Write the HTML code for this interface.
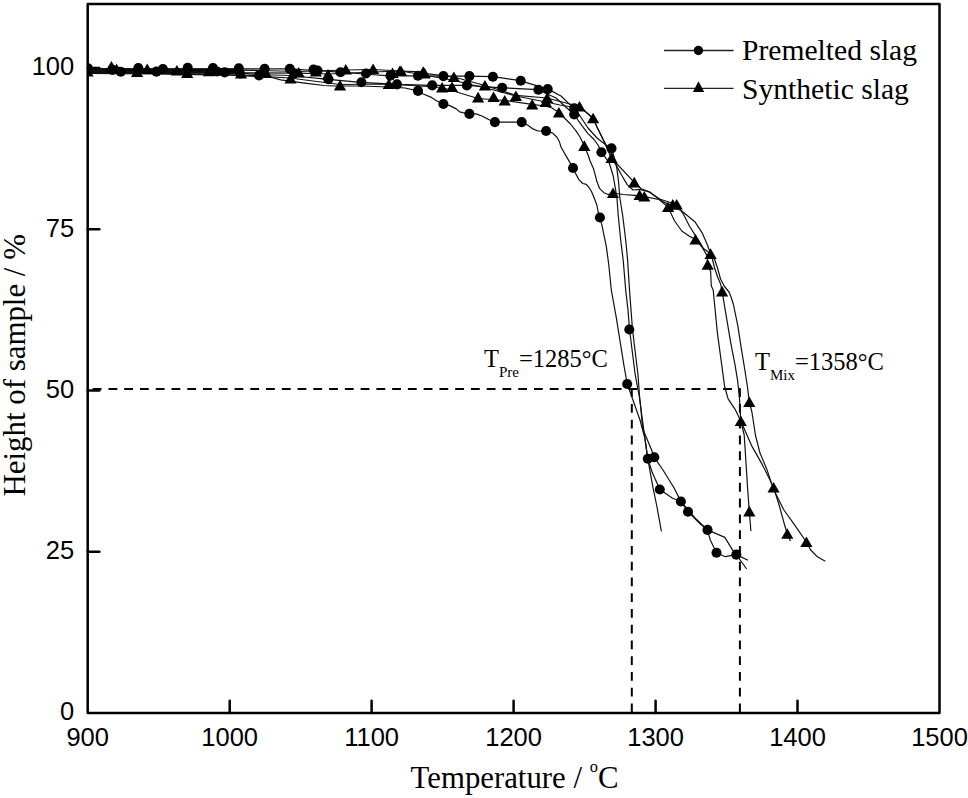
<!DOCTYPE html>
<html><head><meta charset="utf-8"><style>
html,body{margin:0;padding:0;background:#fff;}
svg{display:block;}
</style></head><body>
<svg width="968" height="798" viewBox="0 0 968 798">
<rect width="968" height="798" fill="#fff"/>
<g stroke="#000" stroke-width="2" fill="none" stroke-dasharray="8.8 6.96">
<path d="M92.7,389.1 H740"/>
<path d="M631.8,388.3 V713"/>
<path d="M739.9,388.3 V713"/>
</g>
<defs><clipPath id="c"><rect x="88" y="4" width="851" height="709"/></clipPath></defs>
<g clip-path="url(#c)">
<path d="M88,68.1 L130,68.3 L200,68.4 L235,68.5 L235,74.0 L200,73.8 L130,73.6 L88,73.5Z" fill="#000"/>
<g stroke="#111" stroke-width="1.2" fill="none" stroke-linejoin="round">
<polyline points="88.0,68.6 130.0,68.8 200.0,68.8 264.0,68.8 289.0,68.9 315.0,70.5 340.0,72.2 364.0,74.0 390.0,75.8 418.0,75.8 443.0,76.1 469.0,76.1 493.0,76.7 519.0,80.4 548.0,89.1 561.0,96.0 574.0,108.6 580.0,116.0 588.0,128.0 597.0,138.0 606.0,145.0 611.5,148.5 616.4,164.8 618.5,181.3 619.8,197.5 622.6,215.0 625.7,240.0 627.6,260.0 629.5,290.0 631.0,310.0 632.5,329.5 637.9,374.0 640.0,402.0 643.6,428.6 647.8,458.8 653.0,487.7 657.0,507.0 661.4,531.3"/>
<polyline points="88.0,70.6 121.0,71.0 157.0,71.5 192.0,71.8 225.0,72.2 258.0,74.5 290.0,75.5 328.0,79.3 361.0,82.3 397.0,84.4 432.0,85.4 467.0,85.4 502.0,87.8 538.0,89.7 556.0,98.0 574.0,114.5 582.5,126.3 587.8,133.3 594.0,139.5 598.0,145.0 601.4,152.2 609.0,162.3 613.1,175.5 615.6,189.6 616.9,197.5 618.2,215.0 620.7,240.1 623.2,260.2 625.7,290.0 628.0,310.0 629.5,329.3 635.1,374.0 640.3,402.0 642.6,428.6 651.6,450.0 654.3,457.3 663.6,471.0 674.0,487.7 680.9,501.5 695.0,518.0 707.5,529.9 710.3,540.0 716.5,552.8 725.3,556.7 736.3,554.6 746.7,569.0"/>
<polyline points="88.0,73.4 150.0,74.0 230.0,75.2 270.0,77.0 280.7,79.8 306.5,83.4 324.0,85.5 334.0,86.0 360.0,86.0 390.0,87.0 405.0,88.0 418.0,90.9 423.2,94.0 431.5,97.4 436.4,100.7 443.8,104.2 449.7,105.6 456.3,108.9 459.6,111.8 462.9,112.6 469.2,113.9 476.1,113.9 481.9,116.0 489.1,119.8 494.9,122.1 521.7,122.1 527.9,125.2 532.9,128.9 537.9,131.0 546.1,131.0 552.7,133.1 556.9,137.2 559.3,141.3 561.1,147.3 566.0,155.9 569.7,162.1 572.8,167.7 575.8,173.9 578.9,179.6 582.8,183.5 586.3,184.4 589.0,187.5 591.6,191.8 594.2,198.0 596.8,205.0 598.2,212.0 599.9,217.5 601.9,225.1 606.3,246.4 608.8,265.0 611.3,290.0 616.3,317.6 623.8,364.6 627.2,384.0 630.4,392.8 640.0,420.0 644.8,438.0 647.8,458.8 652.3,472.6 659.8,489.5 672.6,498.2 680.9,501.5 688.0,511.7 700.3,524.0 707.5,529.9 724.8,537.4 733.0,550.6 736.3,554.6 748.0,560.3"/>
<polyline points="88.0,72.6 150.0,73.2 240.0,75.0 290.0,78.0 340.0,84.5 388.8,84.0 420.0,86.0 442.0,87.5 478.0,98.5 505.0,100.5 532.0,104.4 545.0,106.0 552.0,108.0 559.0,112.4 564.7,118.3 570.5,124.0 576.3,131.3 580.0,137.0 584.3,145.8 587.0,152.6 588.1,155.0 589.8,160.3 593.3,168.2 595.1,174.3 596.8,181.3 599.5,188.3 603.9,192.7 608.2,194.5 613.0,193.0 623.0,194.5 634.6,195.4 644.0,196.5 658.7,199.4 668.0,207.0 674.6,221.0 681.8,231.0 689.0,236.0 695.5,239.4 702.0,247.0 707.0,255.6 707.7,264.6 710.6,271.5 711.3,286.0 713.2,290.0 714.9,307.5 717.5,333.9 721.1,360.2 724.6,386.5 728.1,398.8 735.1,409.3 740.8,421.0 744.2,435.0 746.4,469.0 747.5,487.0 749.3,511.3 750.9,531.0"/>
<polyline points="88.0,69.6 130.0,69.8 200.0,70.0 260.0,70.5 298.0,71.5 345.8,70.0 373.0,69.5 399.9,71.0 423.2,71.8 424.6,73.3 453.9,77.0 484.9,85.5 516.0,95.4 547.0,98.0 579.5,106.5 593.1,118.2 596.6,126.3 601.8,136.8 605.4,143.9 611.5,158.0 634.2,182.3 641.2,188.8 648.6,191.5 658.7,198.7 676.7,204.5 683.2,213.8 689.0,225.3 696.2,236.9 703.4,248.4 710.6,253.8 712.4,259.0 714.6,268.0 717.6,277.0 720.6,284.0 722.1,291.3 726.3,316.3 730.7,342.6 735.1,365.4 737.7,381.2 739.5,398.8 740.8,421.0 752.0,446.4 762.2,464.4 770.1,480.2 773.6,487.5 779.1,505.0 784.7,525.3 787.3,533.7 790.4,541.0"/>
<polyline points="88.0,71.6 137.0,71.8 188.0,72.2 238.0,72.8 300.0,73.2 328.0,74.0 373.0,72.0 401.0,71.0 452.0,80.0 493.6,90.0 515.9,96.0 545.8,102.0 560.0,105.0 572.0,107.0 579.5,106.5 593.1,118.2 596.6,126.3 601.8,136.8 605.4,143.9 611.5,158.0 616.4,165.6 621.4,174.7 627.2,184.6 633.0,190.0 640.0,189.3 650.0,192.2 663.0,201.6 681.8,211.0 694.8,221.7 702.0,232.6 707.7,245.5 710.6,254.2 714.5,259.0 717.5,268.0 720.5,279.0 724.5,286.5 729.0,292.0 731.0,297.0 733.3,304.0 737.7,325.1 741.2,347.9 744.7,369.0 747.4,386.5 749.3,402.0 752.0,412.5 755.4,435.0 760.0,453.1 766.7,468.9 773.5,489.2 783.6,509.5 794.9,525.3 806.4,542.0 810.7,550.0 817.4,556.8 825.3,561.3"/>
</g>
<g fill="#000">
<circle cx="88" cy="68.3" r="5.05"/>
<circle cx="112.3" cy="69.9" r="5.05"/>
<circle cx="120.8" cy="71.8" r="5.05"/>
<circle cx="138.3" cy="68" r="5.05"/>
<circle cx="156.4" cy="71.6" r="5.05"/>
<circle cx="162.9" cy="69" r="5.05"/>
<circle cx="187.7" cy="67.9" r="5.05"/>
<circle cx="213" cy="68" r="5.05"/>
<circle cx="217" cy="71.5" r="5.05"/>
<circle cx="224.7" cy="72.4" r="5.05"/>
<circle cx="238.8" cy="68.2" r="5.05"/>
<circle cx="240" cy="73.5" r="5.05"/>
<circle cx="259" cy="75.4" r="5.05"/>
<circle cx="264.6" cy="68.8" r="5.05"/>
<circle cx="289.8" cy="68.8" r="5.05"/>
<circle cx="294.5" cy="73.5" r="5.05"/>
<circle cx="313.5" cy="69.5" r="5.05"/>
<circle cx="317.5" cy="70.5" r="5.05"/>
<circle cx="328.3" cy="79.3" r="5.05"/>
<circle cx="340.5" cy="72.2" r="5.05"/>
<circle cx="361.4" cy="82.3" r="5.05"/>
<circle cx="366" cy="73.5" r="5.05"/>
<circle cx="390.4" cy="75.8" r="5.05"/>
<circle cx="397" cy="84.4" r="5.05"/>
<circle cx="418" cy="75.8" r="5.05"/>
<circle cx="418" cy="90.9" r="5.05"/>
<circle cx="432.2" cy="85.4" r="5.05"/>
<circle cx="443.4" cy="76.1" r="5.05"/>
<circle cx="443.4" cy="104" r="5.05"/>
<circle cx="466.9" cy="85.4" r="5.05"/>
<circle cx="469.4" cy="76.1" r="5.05"/>
<circle cx="469.4" cy="113.9" r="5.05"/>
<circle cx="492.9" cy="76.7" r="5.05"/>
<circle cx="494.9" cy="122.1" r="5.05"/>
<circle cx="502.2" cy="87.8" r="5.05"/>
<circle cx="520.7" cy="80.7" r="5.05"/>
<circle cx="521.7" cy="122.1" r="5.05"/>
<circle cx="538.4" cy="89.7" r="5.05"/>
<circle cx="546.1" cy="131" r="5.05"/>
<circle cx="547.7" cy="89.1" r="5.05"/>
<circle cx="573" cy="168" r="5.05"/>
<circle cx="574.2" cy="108.4" r="5.05"/>
<circle cx="574.2" cy="114.5" r="5.05"/>
<circle cx="599.9" cy="217.5" r="5.05"/>
<circle cx="601.4" cy="152.2" r="5.05"/>
<circle cx="611.5" cy="148.4" r="5.05"/>
<circle cx="627.2" cy="384" r="5.05"/>
<circle cx="629.3" cy="329.5" r="5.05"/>
<circle cx="647.8" cy="458.8" r="5.05"/>
<circle cx="654.3" cy="457.3" r="5.05"/>
<circle cx="659.8" cy="489.5" r="5.05"/>
<circle cx="680.9" cy="501.5" r="5.05"/>
<circle cx="688" cy="511.7" r="5.05"/>
<circle cx="707.5" cy="529.9" r="5.05"/>
<circle cx="716.5" cy="552.8" r="5.05"/>
<circle cx="736.3" cy="554.6" r="5.05"/>
<path d="M87.5,65.8 L93.6,76.4 L81.4,76.4Z"/>
<path d="M111.4,61.0 L117.5,71.6 L105.3,71.6Z"/>
<path d="M116.6,63.5 L122.7,74.1 L110.5,74.1Z"/>
<path d="M137.1,66.5 L143.2,77.1 L131.0,77.1Z"/>
<path d="M147.2,63.5 L153.3,74.1 L141.1,74.1Z"/>
<path d="M176.9,65.0 L183.0,75.6 L170.8,75.6Z"/>
<path d="M187.2,67.5 L193.3,78.1 L181.1,78.1Z"/>
<path d="M209.0,65.7 L215.1,76.3 L202.9,76.3Z"/>
<path d="M241.0,67.8 L247.1,78.4 L234.9,78.4Z"/>
<path d="M266.0,67.3 L272.1,77.9 L259.9,77.9Z"/>
<path d="M290.5,72.9 L296.6,83.5 L284.4,83.5Z"/>
<path d="M298.7,67.0 L304.8,77.6 L292.6,77.6Z"/>
<path d="M315.8,66.0 L321.9,76.6 L309.7,76.6Z"/>
<path d="M328.0,69.0 L334.1,79.6 L321.9,79.6Z"/>
<path d="M340.0,79.8 L346.1,90.4 L333.9,90.4Z"/>
<path d="M392.5,67.5 L398.6,78.1 L386.4,78.1Z"/>
<path d="M345.8,64.0 L351.9,74.6 L339.7,74.6Z"/>
<path d="M373.1,63.5 L379.2,74.1 L367.0,74.1Z"/>
<path d="M388.8,78.5 L394.9,89.1 L382.7,89.1Z"/>
<path d="M399.9,65.5 L406.0,76.1 L393.8,76.1Z"/>
<path d="M401.0,65.5 L407.1,76.1 L394.9,76.1Z"/>
<path d="M423.2,66.3 L429.3,76.9 L417.1,76.9Z"/>
<path d="M424.6,67.8 L430.7,78.4 L418.5,78.4Z"/>
<path d="M442.1,82.0 L448.2,92.6 L436.0,92.6Z"/>
<path d="M452.0,81.5 L458.1,92.1 L445.9,92.1Z"/>
<path d="M453.9,71.5 L460.0,82.1 L447.8,82.1Z"/>
<path d="M478.1,91.8 L484.2,102.4 L472.0,102.4Z"/>
<path d="M484.9,80.0 L491.0,90.6 L478.8,90.6Z"/>
<path d="M493.6,91.5 L499.7,102.1 L487.5,102.1Z"/>
<path d="M504.7,95.0 L510.8,105.6 L498.6,105.6Z"/>
<path d="M515.9,90.5 L522.0,101.1 L509.8,101.1Z"/>
<path d="M532.2,98.9 L538.3,109.5 L526.1,109.5Z"/>
<path d="M545.8,96.5 L551.9,107.1 L539.7,107.1Z"/>
<path d="M547.1,92.5 L553.2,103.1 L541.0,103.1Z"/>
<path d="M558.9,106.9 L565.0,117.5 L552.8,117.5Z"/>
<path d="M579.5,101.0 L585.6,111.6 L573.4,111.6Z"/>
<path d="M593.1,112.7 L599.2,123.3 L587.0,123.3Z"/>
<path d="M584.3,140.3 L590.4,150.9 L578.2,150.9Z"/>
<path d="M611.5,152.5 L617.6,163.1 L605.4,163.1Z"/>
<path d="M613.0,187.5 L619.1,198.1 L606.9,198.1Z"/>
<path d="M634.2,176.8 L640.3,187.4 L628.1,187.4Z"/>
<path d="M639.6,189.5 L645.7,200.1 L633.5,200.1Z"/>
<path d="M644.3,191.0 L650.4,201.6 L638.2,201.6Z"/>
<path d="M668.1,201.5 L674.2,212.1 L662.0,212.1Z"/>
<path d="M672.8,199.0 L678.9,209.6 L666.7,209.6Z"/>
<path d="M676.7,199.0 L682.8,209.6 L670.6,209.6Z"/>
<path d="M695.5,233.9 L701.6,244.5 L689.4,244.5Z"/>
<path d="M710.6,248.3 L716.7,258.9 L704.5,258.9Z"/>
<path d="M707.7,259.1 L713.8,269.7 L701.6,269.7Z"/>
<path d="M722.1,285.8 L728.2,296.4 L716.0,296.4Z"/>
<path d="M740.8,415.5 L746.9,426.1 L734.7,426.1Z"/>
<path d="M749.3,396.5 L755.4,407.1 L743.2,407.1Z"/>
<path d="M773.6,482.0 L779.7,492.6 L767.5,492.6Z"/>
<path d="M749.3,505.8 L755.4,516.4 L743.2,516.4Z"/>
<path d="M787.3,528.2 L793.4,538.8 L781.2,538.8Z"/>
<path d="M806.4,536.5 L812.5,547.1 L800.3,547.1Z"/>
</g></g>
<rect x="87.7" y="4" width="851.8" height="709" fill="none" stroke="#000" stroke-width="2.5" stroke-linejoin="round"/>
<path d="M229.7,713 V700.7 M371.6,713 V700.7 M513.6,713 V700.7 M655.6,713 V700.7 M797.5,713 V700.7 M87.7,551.8 H99.4 M87.7,390.5 H99.4 M87.7,229.2 H99.4 M87.7,68.0 H99.4" stroke="#000" stroke-width="2.5" fill="none" stroke-linecap="round"/>
<g font-family="'Liberation Sans', sans-serif" font-size="25.5" fill="#000">
<text x="74.2" y="719.9" text-anchor="end">0</text>
<text x="74.2" y="558.6" text-anchor="end">25</text>
<text x="74.2" y="397.9" text-anchor="end">50</text>
<text x="74.2" y="236.9" text-anchor="end">75</text>
<text x="74.2" y="74.8" text-anchor="end">100</text>
<text x="87.7" y="745.7" text-anchor="middle">900</text>
<text x="229.7" y="745.7" text-anchor="middle">1000</text>
<text x="371.6" y="745.7" text-anchor="middle">1100</text>
<text x="513.6" y="745.7" text-anchor="middle">1200</text>
<text x="655.6" y="745.7" text-anchor="middle">1300</text>
<text x="797.5" y="745.7" text-anchor="middle">1400</text>
<text x="939.5" y="745.7" text-anchor="middle">1500</text>
</g>
<g font-family="'Liberation Serif', serif" font-size="30.8" fill="#000">
<text x="410.6" y="788">Temperature / <tspan font-size="16.4" dy="-16.3">o</tspan><tspan dy="16.3">C</tspan></text>
<text transform="translate(24.6,496.6) rotate(-90)" x="0" y="0" font-size="30.9">Height of sample / %</text>
</g>
<g stroke="#222" stroke-width="1.3"><path d="M664,50.5 H733.6"/><path d="M664,88.3 H733.6"/></g>
<circle cx="698.4" cy="50.5" r="4.7" fill="#000"/>
<path d="M698.5,81.3 L704.2,91.9 L692.9,91.9Z" fill="#000"/>
<g font-family="'Liberation Serif', serif" font-size="29.6" fill="#000">
<text x="742" y="59.9">Premelted slag</text>
<text x="742" y="98.5">Synthetic slag</text>
</g>
<g font-family="'Liberation Serif', serif" font-size="24.5" fill="#000">
<text x="484" y="367">T<tspan font-size="15" dy="10.2">Pre</tspan><tspan dy="-10.2">=1285°C</tspan></text>
<text x="755" y="369.8">T<tspan font-size="15" dy="10.5">Mix</tspan><tspan dy="-10.5">=1358°C</tspan></text>
</g>
</svg>
</body></html>
